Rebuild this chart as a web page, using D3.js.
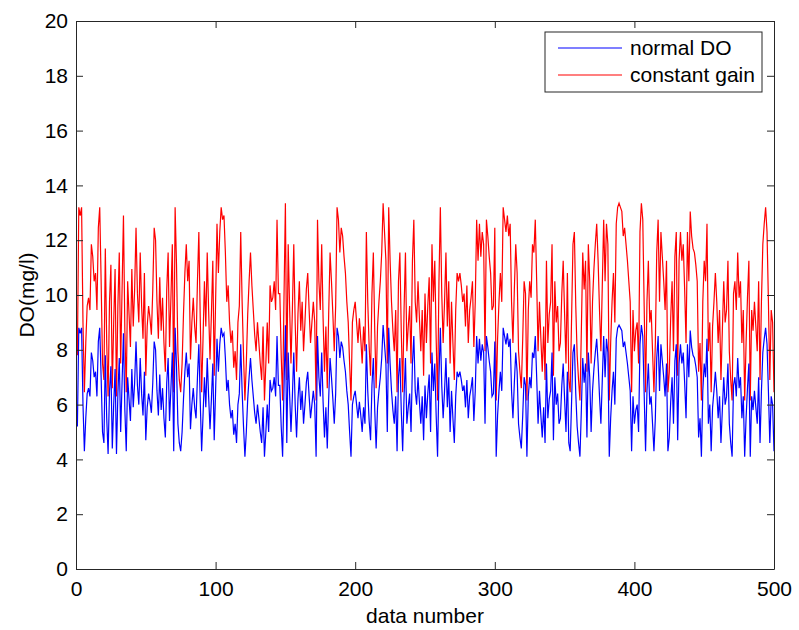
<!DOCTYPE html>
<html>
<head>
<meta charset="utf-8">
<script src="https://d3js.org/d3.v7.min.js"></script>
<style>
  body { margin: 0; background-color: #ffffff; overflow: hidden; }
  svg text { font-family: "Liberation Sans", Arial, sans-serif; fill: #000; }
</style>
</head>
<body>
<div id="canvas"></div>

<script type="text/javascript">

// tick labels
var xTicks = [0, 100, 200, 300, 400, 500];
var yTicks = [0, 2, 4, 6, 8, 10, 12, 14, 16, 18, 20];

// legend
var seriesNames = ["normal DO", "constant gain"];
var seriesColors = ["#0000ff", "#ff0000"];

// normal DO, samples 1..500
var normalDO = [
  5.2, 8.8, 8.6, 8.8, 6.0, 4.3, 5.5, 6.4, 6.6, 6.3,
  7.9, 7.6, 7.0, 7.2, 6.3, 8.3, 8.8, 7.0, 5.0, 4.6,
  7.8, 5.5, 4.2, 6.5, 7.4, 4.4, 6.0, 7.3, 4.2, 6.4,
  7.7, 5.0, 6.8, 8.6, 5.8, 4.3, 7.0, 6.2, 5.4, 7.3,
  5.9, 6.8, 8.3, 6.7, 6.0, 7.7, 6.4, 5.6, 7.2, 4.7,
  5.9, 6.4, 6.1, 5.7, 6.8, 8.3, 8.0, 6.5, 5.6, 7.1,
  5.8, 6.6, 5.5, 4.8, 6.8, 7.7, 5.4, 6.6, 7.9, 4.3,
  8.8, 7.4, 5.3, 4.6, 4.3, 5.0, 6.2, 7.2, 7.9, 7.0,
  7.5, 5.1, 6.0, 6.6, 5.9, 5.5, 7.0, 8.2, 6.1, 4.3,
  5.6, 7.0, 5.9, 7.7, 6.3, 5.1, 6.2, 7.5, 4.7, 6.5,
  8.4, 7.2, 8.2, 8.8, 8.5, 8.6, 7.7, 6.5, 6.9, 6.0,
  5.5, 5.8, 4.9, 5.3, 4.6, 6.0, 6.4, 8.2, 6.5, 5.2,
  4.1, 5.0, 6.2, 7.0, 7.7, 6.9, 6.3, 5.7, 5.3, 6.0,
  5.5, 5.0, 4.6, 5.9, 4.1, 5.0, 6.0, 5.0, 6.9, 6.5,
  6.6, 7.0, 6.3, 8.5, 6.7, 6.7, 5.2, 4.1, 6.6, 8.9,
  4.6, 7.9, 6.4, 5.0, 6.3, 7.9, 6.0, 4.8, 6.2, 7.0,
  5.8, 6.5, 5.3, 6.0, 6.8, 7.2, 6.3, 5.5, 6.0, 6.5,
  6.0, 4.1, 8.5, 7.0, 6.3, 7.9, 6.1, 4.8, 5.9, 4.4,
  6.2, 7.7, 7.0, 6.2, 5.3, 6.4, 8.8, 8.5, 7.7, 8.3,
  8.1, 7.6, 7.2, 6.5, 6.0, 5.0, 4.1, 6.0, 6.3, 6.5,
  6.0, 5.5, 6.1, 5.6, 5.0, 5.9, 5.3, 8.2, 6.5, 5.4,
  4.7, 6.7, 7.7, 5.8, 4.4, 5.9, 6.5, 7.0, 7.7, 8.9,
  8.2, 7.5, 5.0, 8.8, 7.5, 6.5, 5.8, 5.3, 6.3, 4.3,
  7.0, 7.7, 5.8, 4.3, 6.3, 7.7, 5.3, 5.9, 6.4, 5.0,
  7.5, 8.5, 6.5, 6.0, 7.0, 6.1, 5.3, 6.3, 4.7, 6.7,
  5.5, 6.4, 7.1, 5.0, 7.9, 6.5, 7.5, 5.6, 4.1, 7.0,
  8.8, 6.7, 5.5, 6.5, 7.7, 5.9, 7.0, 5.0, 6.5, 5.5,
  4.6, 6.3, 7.2, 7.0, 7.2, 6.9, 6.5, 6.7, 5.9, 6.9,
  5.5, 6.3, 6.6, 7.0, 5.4, 6.5, 8.5, 7.5, 8.4, 7.6,
  8.2, 7.9, 5.3, 8.5, 8.1, 7.6, 7.2, 6.3, 6.4, 8.3,
  4.1, 5.6, 6.5, 7.2, 6.5, 8.8, 8.5, 8.2, 8.6, 8.1,
  8.4, 6.5, 5.5, 6.8, 7.9, 7.2, 5.3, 4.8, 4.4, 5.6,
  7.0, 6.7, 4.1, 6.3, 7.0, 6.6, 7.9, 7.7, 8.5, 7.0,
  5.3, 6.5, 5.6, 4.8, 5.9, 4.6, 7.5, 5.5, 6.2, 6.5,
  7.9, 4.7, 7.0, 6.0, 6.4, 5.3, 5.5, 6.7, 7.5, 6.2,
  5.0, 7.2, 4.6, 4.3, 6.1, 7.9, 8.2, 6.4, 5.2, 4.6,
  4.1, 5.8, 7.7, 6.8, 7.5, 4.8, 7.9, 7.0, 5.0, 6.5,
  7.3, 7.9, 8.4, 7.5, 6.3, 5.3, 6.9, 8.5, 7.0, 8.4,
  7.9, 4.1, 5.5, 6.5, 7.2, 6.0, 8.4, 8.8, 8.9, 8.8,
  8.7, 8.1, 8.3, 7.9, 7.5, 7.0, 6.5, 4.3, 6.3, 5.3,
  5.8, 6.0, 5.0, 8.2, 8.9, 8.5, 6.4, 4.3, 6.5, 7.5,
  6.0, 6.3, 5.3, 4.3, 5.5, 7.7, 8.5, 6.5, 8.2, 7.6,
  7.0, 6.3, 7.5, 4.3, 4.8, 6.1, 7.0, 5.3, 7.6, 8.2,
  4.7, 7.5, 8.2, 7.5, 7.9, 6.8, 5.5, 8.2, 7.0, 8.7,
  8.1, 7.8, 7.7, 7.4, 7.0, 4.8, 5.5, 4.1, 6.5, 7.5,
  7.0, 8.4, 5.3, 6.0, 4.3, 5.9, 6.5, 7.2, 6.5, 5.5,
  6.3, 4.6, 5.8, 7.0, 6.0, 6.3, 7.5, 5.3, 4.6, 4.1,
  6.7, 7.0, 6.3, 7.7, 6.6, 7.0, 5.5, 6.3, 4.1, 5.5,
  6.6, 7.5, 4.1, 6.3, 5.8, 6.5, 5.9, 5.3, 7.0, 4.6,
  6.5, 7.9, 8.4, 8.8, 8.2, 6.5, 4.6, 6.3, 6.0, 4.3
];

// constant gain, samples 1..500
var constantGain = [
  7.8, 13.2, 12.9, 13.2, 9.0, 6.45, 8.25, 9.6, 9.9, 9.45,
  11.85, 11.4, 10.5, 10.8, 9.45, 12.45, 13.2, 10.5, 7.5, 6.9,
  11.7, 8.25, 6.3, 9.75, 11.1, 6.6, 9.0, 10.95, 6.3, 9.6,
  11.55, 7.5, 10.2, 12.9, 8.7, 6.45, 10.5, 9.3, 8.1, 10.95,
  8.85, 10.2, 12.45, 10.05, 9.0, 11.55, 9.6, 8.4, 10.8, 7.05,
  8.85, 9.6, 9.15, 8.55, 10.2, 12.45, 12.0, 9.75, 8.4, 10.65,
  8.7, 9.9, 8.25, 7.2, 10.2, 11.55, 8.1, 9.9, 11.85, 6.45,
  13.2, 11.1, 7.95, 6.9, 6.45, 7.5, 9.3, 10.8, 11.85, 10.5,
  11.25, 7.65, 9.0, 9.9, 8.85, 8.25, 10.5, 12.3, 9.15, 6.45,
  8.4, 10.5, 8.85, 11.55, 9.45, 7.65, 9.3, 11.25, 7.05, 9.75,
  12.6, 10.8, 12.3, 13.2, 12.75, 12.9, 11.55, 9.75, 10.35, 9.0,
  8.25, 8.7, 7.35, 7.95, 6.9, 9.0, 9.6, 12.3, 9.75, 7.8,
  6.15, 7.5, 9.3, 10.5, 11.55, 10.35, 9.45, 8.55, 7.95, 9.0,
  8.25, 7.5, 6.9, 8.85, 6.15, 7.5, 9.0, 7.5, 10.35, 9.75,
  9.9, 10.5, 9.45, 12.75, 10.05, 10.05, 7.8, 6.15, 9.9, 13.35,
  6.9, 11.85, 9.6, 7.5, 9.45, 11.85, 9.0, 7.2, 9.3, 10.5,
  8.7, 9.75, 7.95, 9.0, 10.2, 10.8, 9.45, 8.25, 9.0, 9.75,
  9.0, 6.15, 12.75, 10.5, 9.45, 11.85, 9.15, 7.2, 8.85, 6.6,
  9.3, 11.55, 10.5, 9.3, 7.95, 9.6, 13.2, 12.75, 11.55, 12.45,
  12.15, 11.4, 10.8, 9.75, 9.0, 7.5, 6.15, 9.0, 9.45, 9.75,
  9.0, 8.25, 9.15, 8.4, 7.5, 8.85, 7.95, 12.3, 9.75, 8.1,
  7.05, 10.05, 11.55, 8.7, 6.6, 8.85, 9.75, 10.5, 11.55, 13.35,
  12.3, 11.25, 7.5, 13.2, 11.25, 9.75, 8.7, 7.95, 9.45, 6.45,
  10.5, 11.55, 8.7, 6.45, 9.45, 11.55, 7.95, 8.85, 9.6, 7.5,
  11.25, 12.75, 9.75, 9.0, 10.5, 9.15, 7.95, 9.45, 7.05, 10.05,
  8.25, 9.6, 10.65, 7.5, 11.85, 9.75, 11.25, 8.4, 6.15, 10.5,
  13.2, 10.05, 8.25, 9.75, 11.55, 8.85, 10.5, 7.5, 9.75, 8.25,
  6.9, 9.45, 10.8, 10.5, 10.8, 10.35, 9.75, 10.05, 8.85, 10.35,
  8.25, 9.45, 9.9, 10.5, 8.1, 9.75, 12.75, 11.25, 12.6, 11.4,
  12.3, 11.85, 7.95, 12.75, 12.15, 11.4, 10.8, 9.45, 9.6, 12.45,
  6.15, 8.4, 9.75, 10.8, 9.75, 13.2, 12.75, 12.3, 12.9, 12.15,
  12.6, 9.75, 8.25, 10.2, 11.85, 10.8, 7.95, 7.2, 6.6, 8.4,
  10.5, 10.05, 6.15, 9.45, 10.5, 9.9, 11.85, 11.55, 12.75, 10.5,
  7.95, 9.75, 8.4, 7.2, 8.85, 6.9, 11.25, 8.25, 9.3, 9.75,
  11.85, 7.05, 10.5, 9.0, 9.6, 7.95, 8.25, 10.05, 11.25, 9.3,
  7.5, 10.8, 6.9, 6.45, 9.15, 11.85, 12.3, 9.6, 7.8, 6.9,
  6.15, 8.7, 11.55, 10.2, 11.25, 7.2, 11.85, 10.5, 7.5, 9.75,
  10.95, 11.85, 12.6, 11.25, 9.45, 7.95, 10.35, 12.75, 10.5, 12.6,
  11.85, 6.15, 8.25, 9.75, 10.8, 9.0, 12.6, 13.2, 13.35, 13.2,
  13.05, 12.15, 12.45, 11.85, 11.25, 10.5, 9.75, 6.45, 9.45, 7.95,
  8.7, 9.0, 7.5, 12.3, 13.35, 12.75, 9.6, 6.45, 9.75, 11.25,
  9.0, 9.45, 7.95, 6.45, 8.25, 11.55, 12.75, 9.75, 12.3, 11.4,
  10.5, 9.45, 11.25, 6.45, 7.2, 9.15, 10.5, 7.95, 11.4, 12.3,
  7.05, 11.25, 12.3, 11.25, 11.85, 10.2, 8.25, 12.3, 10.5, 13.05,
  12.15, 11.7, 11.55, 11.1, 10.5, 7.2, 8.25, 6.15, 9.75, 11.25,
  10.5, 12.6, 7.95, 9.0, 6.45, 8.85, 9.75, 10.8, 9.75, 8.25,
  9.45, 6.9, 8.7, 10.5, 9.0, 9.45, 11.25, 7.95, 6.9, 6.15,
  10.05, 10.5, 9.45, 11.55, 9.9, 10.5, 8.25, 9.45, 6.15, 8.25,
  9.9, 11.25, 6.15, 9.45, 8.7, 9.75, 8.85, 7.95, 10.5, 6.9,
  9.75, 11.85, 12.6, 13.2, 12.3, 9.75, 6.9, 9.45, 9.0, 6.45
];

var width = 799, height = 630;
var margin = {left: 76, right: 25, top: 21, bottom: 61};
var plotW = width - margin.left - margin.right;
var plotH = height - margin.top - margin.bottom;

var svg = d3.select("#canvas").append("svg")
    .attr("width", width)
    .attr("height", height);

var x = d3.scaleLinear().domain([0, 500]).range([margin.left, margin.left + plotW]);
var y = d3.scaleLinear().domain([0, 20]).range([margin.top + plotH, margin.top]);

var series = [normalDO, constantGain];

// data lines (red underneath, blue on top as in the picture)
var line = d3.line()
    .x(function (d, i) { return x(i + 1); })
    .y(function (d) { return y(d); });

svg.append("g").selectAll("path")
    .data([1, 0])
    .enter().append("path")
    .attr("d", function (k) { return line(series[k]); })
    .attr("fill", "none")
    .attr("stroke", function (k) { return seriesColors[k]; })
    .attr("stroke-width", 1.2);

// axes: ticks point inward, box on all four sides
var tickLen = 7;
var axisColor = "#262626";

var xAxisB = d3.axisBottom(x).tickValues(xTicks).tickSizeInner(-tickLen).tickSizeOuter(0).tickPadding(12);
var xAxisT = d3.axisTop(x).tickValues(xTicks).tickSizeInner(-tickLen).tickSizeOuter(0).tickFormat("");
var yAxisL = d3.axisLeft(y).tickValues(yTicks).tickSizeInner(-tickLen).tickSizeOuter(0).tickPadding(8);
var yAxisR = d3.axisRight(y).tickValues(yTicks).tickSizeInner(-tickLen).tickSizeOuter(0).tickFormat("");

function styleAxis(g) {
  g.select(".domain").attr("stroke", axisColor).attr("stroke-width", 1);
  g.selectAll(".tick line").attr("stroke", axisColor).attr("stroke-width", 1);
  g.selectAll(".tick text").attr("font-size", "21px").attr("fill", "#000")
    .style("font-family", "'Liberation Sans', Arial, sans-serif");
}

svg.append("g").attr("transform", "translate(0," + (margin.top + plotH) + ")").call(xAxisB).call(styleAxis);
svg.append("g").attr("transform", "translate(0," + margin.top + ")").call(xAxisT).call(styleAxis);
svg.append("g").attr("transform", "translate(" + margin.left + ",0)").call(yAxisL).call(styleAxis);
svg.append("g").attr("transform", "translate(" + (margin.left + plotW) + ",0)").call(yAxisR).call(styleAxis);

// axis labels
svg.append("text")
    .attr("x", margin.left + plotW / 2)
    .attr("y", 623)
    .attr("text-anchor", "middle")
    .attr("font-size", "21px")
    .text("data number");

svg.append("text")
    .attr("transform", "translate(34," + (margin.top + plotH / 2) + ") rotate(-90)")
    .attr("text-anchor", "middle")
    .attr("font-size", "21px")
    .text("DO(mg/l)");

// legend
var legend = svg.append("g");
legend.append("rect")
    .attr("x", 545).attr("y", 32)
    .attr("width", 217).attr("height", 60)
    .attr("fill", "#ffffff")
    .attr("stroke", axisColor)
    .attr("stroke-width", 1);

var items = legend.selectAll("g.item")
    .data(seriesNames)
    .enter().append("g")
    .attr("class", "item")
    .attr("transform", function (d, i) { return "translate(0," + (48 + i * 27) + ")"; });

items.append("line")
    .attr("x1", 558).attr("x2", 622)
    .attr("y1", 0).attr("y2", 0)
    .attr("stroke", function (d, i) { return seriesColors[i]; })
    .attr("stroke-width", 1.2);

items.append("text")
    .attr("x", 630)
    .attr("y", 0)
    .attr("dy", "0.35em")
    .attr("font-size", "21px")
    .text(function (d) { return d; });

</script>
</body>
</html>
